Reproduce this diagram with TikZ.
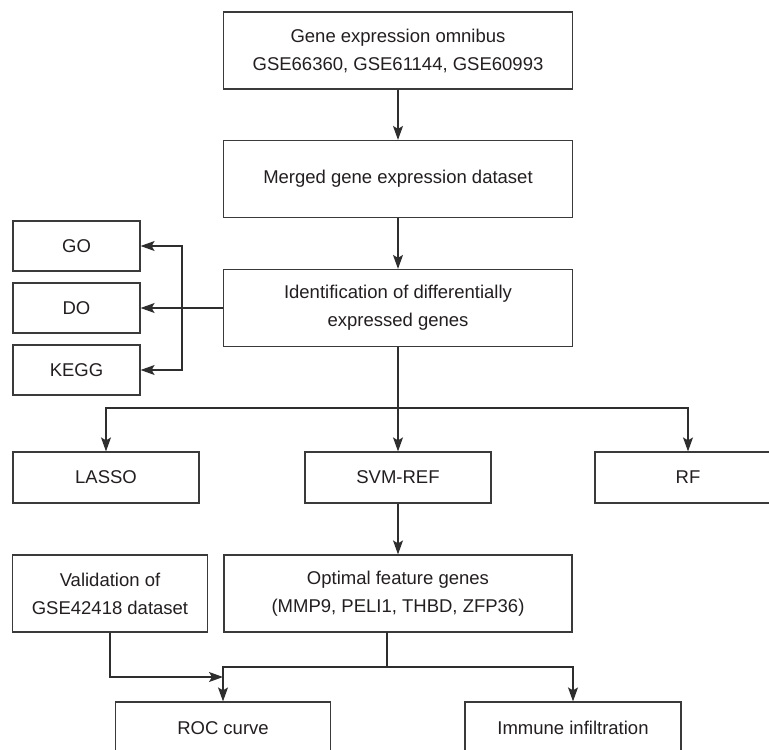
\documentclass[tikz,border=0pt]{standalone}
\usepackage{fontspec}
\setmainfont{Liberation Sans}
\usetikzlibrary{arrows.meta, positioning}
\definecolor{box-border}{HTML}{3A3A3A}
\definecolor{edge}{HTML}{2E2E2E}
\definecolor{label}{HTML}{231F20}
\tikzset{
  fbox/.style={
    rectangle, draw=box-border, fill=white, line width=1.2pt,
    inner sep=0pt, align=center, text=label,
    font=\fontsize{18.5}{28}\selectfont
  },
  fbox-wide/.style={fbox, minimum width=349pt, minimum height=77pt},
  fbox-side/.style={fbox, minimum width=127pt, minimum height=50pt},
  fbox-method/.style={fbox, minimum width=186pt, minimum height=51pt},
  fedge/.style={draw=edge, line width=1.3pt},
  farrow/.style={fedge, -{Stealth[length=14pt, width=10pt, inset=3pt]}},
  fsplit/.style={fedge, {Stealth[length=14pt, width=10pt, inset=3pt]}-{Stealth[length=14pt, width=10pt, inset=3pt]}}
}

\begin{document}
\begin{tikzpicture}[x=1pt, y=-1pt]

  \useasboundingbox (0,0) rectangle (769,750);
  \clip (0,0) rectangle (769,750);

  % ---- Main column ---------------------------------------------------------
  \node[fbox-wide] (geo)    at (398,  50.5) {Gene expression omnibus\\GSE66360, GSE61144, GSE60993};
  \node[fbox-wide] (merged) at (398, 179.0) {Merged gene expression dataset};
  \node[fbox-wide] (deg)    at (398, 308.0) {Identification of differentially\\expressed genes};

  % ---- Enrichment boxes ----------------------------------------------------
  \node[fbox-side] (go)   at (76.5, 246) {GO};
  \node[fbox-side] (do)   at (76.5, 308) {DO};
  \node[fbox-side] (kegg) at (76.5, 370) {KEGG};

  % ---- Feature selection ---------------------------------------------------
  \node[fbox-method] (lasso) at (106, 477.5) {LASSO};
  \node[fbox-method] (svm)   at (398, 477.5) {SVM-REF};
  \node[fbox-method] (rf)    at (688, 477.5) {RF};

  \node[fbox, minimum width=195pt, minimum height=77pt] (valid)   at (110, 593.5) {Validation of\\GSE42418 dataset};
  \node[fbox, minimum width=348pt, minimum height=77pt] (optimal) at (398, 593.5) {Optimal feature genes\\(MMP9, PELI1, THBD, ZFP36)};

  % ---- Outcomes ------------------------------------------------------------
  \node[fbox, minimum width=215pt, minimum height=52pt] (roc)    at (223, 728) {ROC curve};
  \node[fbox, minimum width=216pt, minimum height=52pt] (immune) at (573, 728) {Immune infiltration};

  % ---- Junction points -----------------------------------------------------
  \coordinate (enrich) at (182, 308);
  \coordinate (fork)   at (398, 408);
  \coordinate (tap)    at (387, 632);
  \coordinate (fork2)  at (387, 667);
  \coordinate (vjoin)  at (223, 677);

  % ---- Edges ---------------------------------------------------------------
  \draw[farrow] (geo) -- (merged);
  \draw[farrow] (merged) -- (deg);
  \draw[farrow] (deg.west) -- (do.east);
  \draw[fsplit] (go.east) -- (go.east -| enrich) -- (kegg.east -| enrich) -- (kegg.east);

  \draw[farrow] (deg.south) -- (svm.north);
  \draw[fsplit] (lasso.north) |- (fork) -| (rf.north);
  \draw[farrow] (svm) -- (optimal);

  \draw[fedge]  (tap) -- (fork2);
  \draw[fsplit] (roc.north) |- (fork2) -| (immune.north);
  \draw[farrow] (valid.south) |- (vjoin);

\end{tikzpicture}
\end{document}
